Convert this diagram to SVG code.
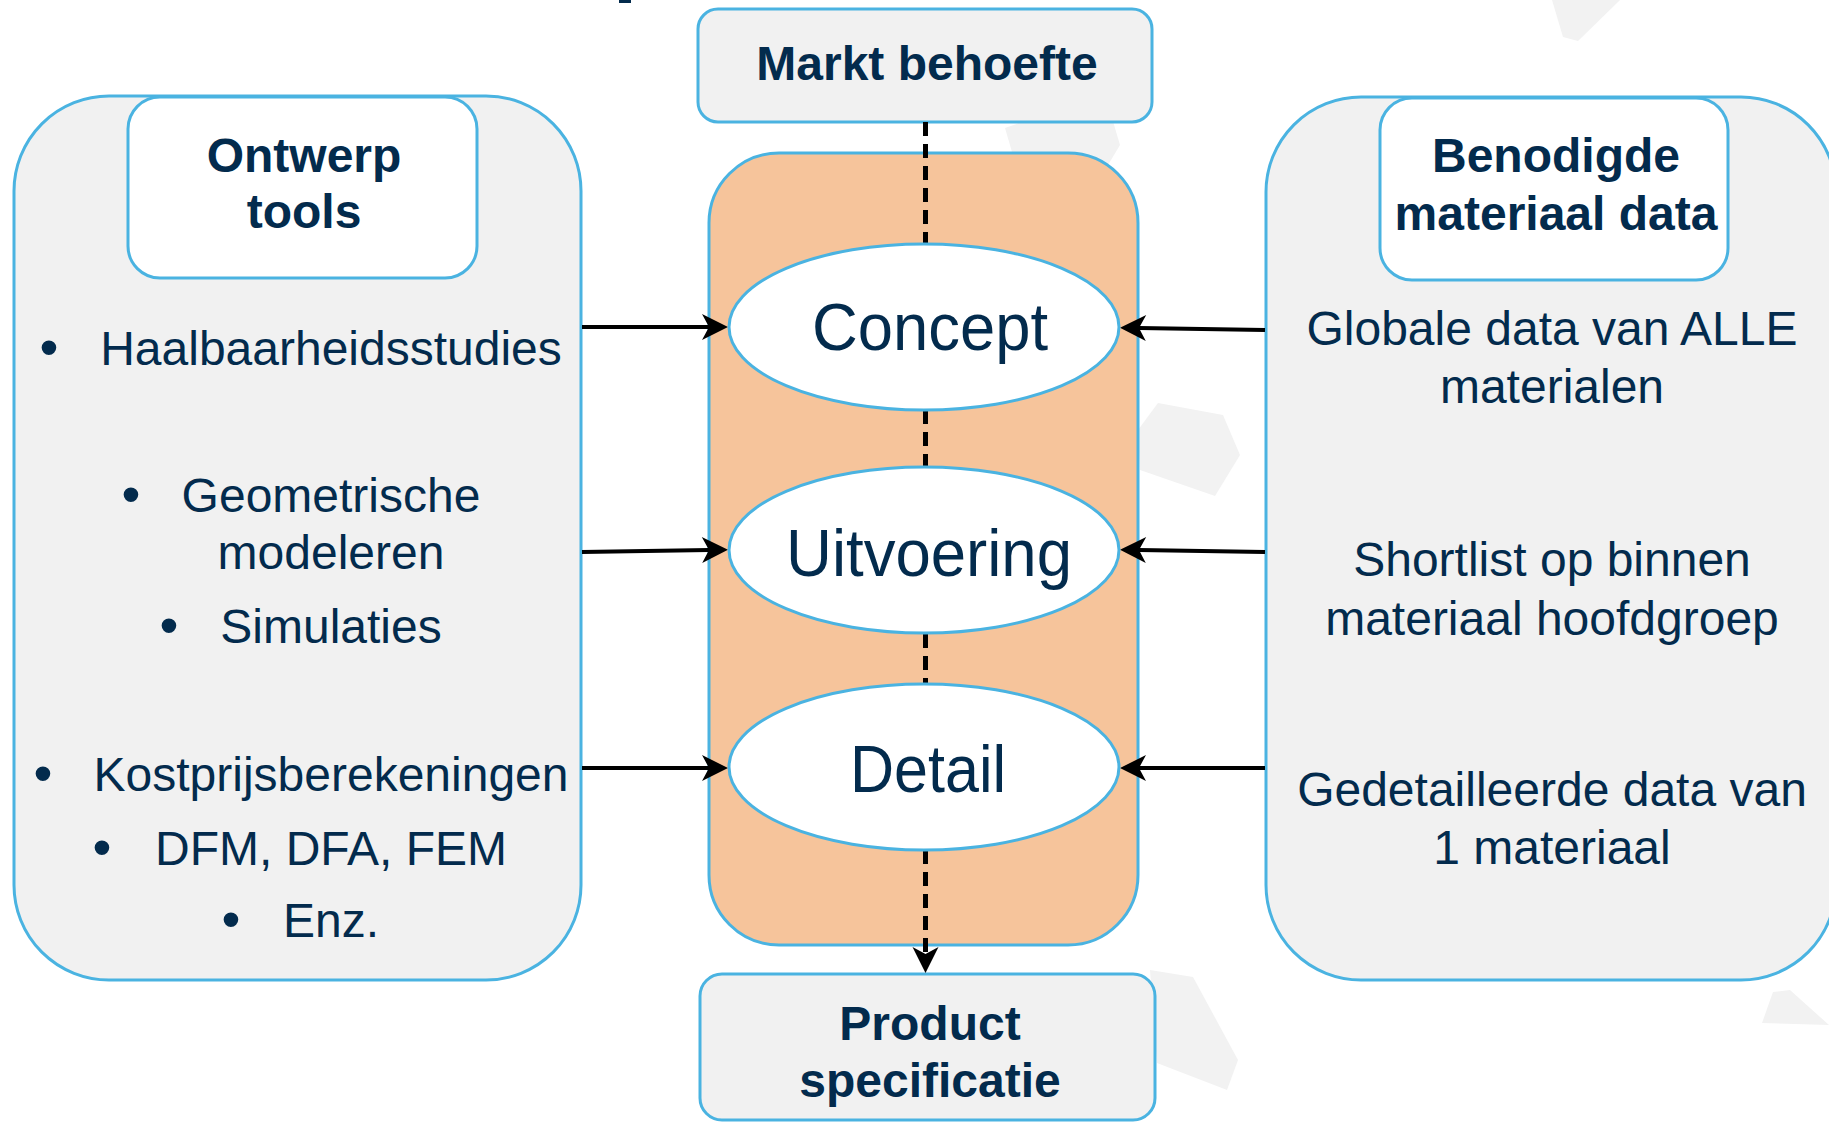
<svg xmlns="http://www.w3.org/2000/svg" width="1829" height="1122" viewBox="0 0 1829 1122">
<defs>
<style>
.panel{fill:#f1f1f1;stroke:#4ab3e1;stroke-width:3}
.white{fill:#ffffff;stroke:#4ab3e1;stroke-width:3}
.orange{fill:#f6c49b;stroke:#4ab3e1;stroke-width:3}
.bold{font-family:"Liberation Sans",Arial,sans-serif;font-weight:bold;font-size:48px;fill:#032b4d;text-anchor:middle}
.reg{font-family:"Liberation Sans",Arial,sans-serif;font-size:48px;fill:#032b4d;text-anchor:middle}
.bul{font-family:"Liberation Sans",Arial,sans-serif;font-size:54px;fill:#032b4d;text-anchor:middle}
.big{font-family:"Liberation Sans",Arial,sans-serif;font-size:66px;fill:#032b4d;text-anchor:middle}
.wm{fill:#f2f2f2}
.arrow{stroke:#000;stroke-width:4;fill:none}
.dash{stroke:#000;stroke-width:5;fill:none;stroke-dasharray:14 8}
</style>
<marker id="ah" markerUnits="userSpaceOnUse" markerWidth="28" markerHeight="28" refX="7" refY="13" orient="auto" overflow="visible">
<path d="M0,0 L26,13 L0,26 L7,13 Z" fill="#000"/>
</marker>
</defs>
<rect width="1829" height="1122" fill="#ffffff"/>
<g id="watermark">
<polygon class="wm" points="1005,128 1012,152 1060,160 1108,165 1120,145 1112,118 1070,105"/>
<polygon class="wm" points="1158,403 1223,415 1240,455 1215,496 1140,470 1138,430"/>
<polygon class="wm" points="1552,0 1563,37 1578,41 1620,0"/>
<polygon class="wm" points="1150,970 1193,977 1238,1060 1227,1090 1157,1063"/>
<polygon class="wm" points="1773,992 1790,990 1829,1025 1762,1023"/>
</g>
<rect x="619" y="0" width="12" height="3" fill="#032b4d"/>
<g id="left-panel">
<rect class="panel" x="14" y="96" width="567" height="884" rx="95" ry="95"/>
<text class="bul" x="49" y="366">•</text>
<text class="reg" x="331" y="365">Haalbaarheidsstudies</text>
<text class="bul" x="131" y="513">•</text>
<text class="reg" x="331" y="512">Geometrische</text>
<text class="reg" x="331" y="569">modeleren</text>
<text class="bul" x="169" y="644">•</text>
<text class="reg" x="331" y="643">Simulaties</text>
<text class="bul" x="43" y="792">•</text>
<text class="reg" x="331" y="791">Kostprijsberekeningen</text>
<text class="bul" x="102" y="866">•</text>
<text class="reg" x="331" y="865">DFM, DFA, FEM</text>
<text class="bul" x="231" y="938">•</text>
<text class="reg" x="331" y="937">Enz.</text>
</g>
<g id="ontwerp-tools">
<rect class="white" x="128" y="97" width="349" height="181" rx="32" ry="32"/>
<text class="bold" x="304" y="172">Ontwerp</text>
<text class="bold" x="304" y="228">tools</text>
</g>
<g id="right-panel">
<rect class="panel" x="1266" y="97" width="570" height="883" rx="95" ry="95"/>
<text class="reg" x="1552" y="345">Globale data van ALLE</text>
<text class="reg" x="1552" y="403">materialen</text>
<text class="reg" x="1552" y="576">Shortlist op binnen</text>
<text class="reg" x="1552" y="635">materiaal hoofdgroep</text>
<text class="reg" x="1552" y="806">Gedetailleerde data van</text>
<text class="reg" x="1552" y="864">1 materiaal</text>
</g>
<g id="benodigde-materiaal-data">
<rect class="white" x="1380" y="98" width="348" height="182" rx="32" ry="32"/>
<text class="bold" x="1556" y="172">Benodigde</text>
<text class="bold" x="1556" y="230">materiaal data</text>
</g>
<g id="proces">
<rect class="orange" x="709" y="153" width="429" height="792" rx="70" ry="70"/>
</g>
<g id="markt-behoefte">
<rect class="panel" x="698" y="9" width="454" height="113" rx="20" ry="20"/>
<text class="bold" x="927" y="80">Markt behoefte</text>
</g>
<g id="product-specificatie">
<rect class="panel" x="700" y="974" width="455" height="146" rx="22" ry="22"/>
<text class="bold" x="930" y="1040">Product</text>
<text class="bold" x="930" y="1097">specificatie</text>
</g>
<g id="connectors">
<line class="dash" x1="925.5" y1="122" x2="925.5" y2="244"/>
<line class="dash" x1="925.5" y1="410" x2="925.5" y2="467"/>
<line class="dash" x1="925.5" y1="634" x2="925.5" y2="685"/>
<line class="dash" x1="925.5" y1="850" x2="925.5" y2="954" marker-end="url(#ah)"/>
<line class="arrow" x1="582" y1="327" x2="709" y2="327" marker-end="url(#ah)"/>
<line class="arrow" x1="582" y1="552" x2="709" y2="550" marker-end="url(#ah)"/>
<line class="arrow" x1="582" y1="768" x2="709" y2="768" marker-end="url(#ah)"/>
<line class="arrow" x1="1265" y1="330" x2="1139" y2="328" marker-end="url(#ah)"/>
<line class="arrow" x1="1265" y1="552" x2="1139" y2="550" marker-end="url(#ah)"/>
<line class="arrow" x1="1265" y1="768" x2="1139" y2="768" marker-end="url(#ah)"/>
</g>
<g id="concept">
<ellipse class="white" cx="924" cy="327" rx="195" ry="83"/>
<text class="big" x="930" y="350" textLength="236" lengthAdjust="spacingAndGlyphs">Concept</text>
</g>
<g id="uitvoering">
<ellipse class="white" cx="924" cy="550" rx="195" ry="83"/>
<text class="big" x="929" y="576" textLength="286" lengthAdjust="spacingAndGlyphs">Uitvoering</text>
</g>
<g id="detail">
<ellipse class="white" cx="924" cy="767" rx="195" ry="83"/>
<text class="big" x="928" y="792" textLength="156" lengthAdjust="spacingAndGlyphs">Detail</text>
</g>
</svg>
